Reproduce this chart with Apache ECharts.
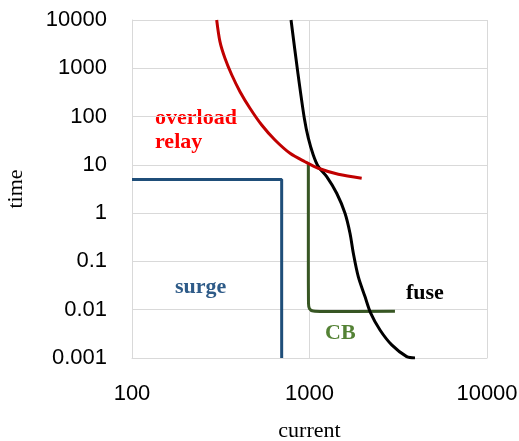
<!DOCTYPE html>
<html>
<head>
<meta charset="utf-8">
<script src="https://cdn.jsdelivr.net/npm/echarts@6/dist/echarts.min.js"></script>
<style>
  html, body { margin: 0; padding: 0; background: #fff; }
  #chart { width: 519px; height: 441px; }
</style>
</head>
<body>
<div id="chart"></div>
<script>
// tick labels
var xLabels = ['100', '1000', '10000'];
var yLabels = ['0.001', '0.01', '0.1', '1', '10', '100', '1000', '10000'];

// curves, [current, time]
var relay = [[300, 10000], [313, 3556], [334, 1610], [365, 726], [406, 328], [462, 149],
    [538, 67], [639, 32.8], [777, 17.4], [943, 11.6], [1121, 8.5], [1453, 6.4], [1968, 5.3]];
var fuse = [[787, 10000], [858, 851], [935, 92], [985, 35.6],
    [1050, 16.0], [1121, 9.2], [1250, 5.7], [1423, 2.58], [1585, 0.995], [1691, 0.384],
    [1766, 0.148], [1883, 0.0485], [2054, 0.0187], [2212, 0.0085], [2496, 0.0038],
    [2905, 0.00187], [3529, 0.00107], [3929, 0.001]];
var cb = [[985, 10.3], [985, 1], [985, 0.1], [987, 0.0136], [1000, 0.0105], [1050, 0.0094],
    [1200, 0.0092], [3030, 0.0093]];
var surge = [[100, 5], [697, 5], [697, 0.001]];

var gridColor = '#d9d9d9';

function lineSeries(name, data, color, smooth) {
    return {
        name: name,
        type: 'line',
        data: data,
        showSymbol: false,
        smooth: smooth,
        lineStyle: { color: color, width: 3 },
        silent: true
    };
}

var option = {
    animation: false,
    grid: { left: 132, right: 32, top: 20, bottom: 83, containLabel: false, outerBoundsMode: 'none' },
    xAxis: {
        type: 'log',
        logBase: 10,
        min: 100,
        max: 10000,
        name: 'current',
        nameLocation: 'middle',
        nameGap: 62,
        nameTextStyle: { fontFamily: 'Liberation Serif', fontSize: 22, color: '#000' },
        axisLine: { lineStyle: { color: gridColor } },
        axisTick: { show: false },
        axisLabel: {
            margin: 25,
            fontFamily: 'Liberation Sans',
            fontSize: 22,
            color: '#000',
            formatter: function (v) {
                return xLabels[Math.round(Math.log10(v)) - 2];
            }
        },
        splitLine: { show: true, lineStyle: { color: gridColor, width: 1 } }
    },
    yAxis: {
        type: 'log',
        logBase: 10,
        min: 0.001,
        max: 10000,
        name: 'time',
        nameLocation: 'middle',
        nameGap: 105,
        nameTextStyle: { fontFamily: 'Liberation Serif', fontSize: 22, color: '#000' },
        axisLine: { lineStyle: { color: gridColor } },
        axisTick: { show: false },
        axisLabel: {
            margin: 25,
            fontFamily: 'Liberation Sans',
            fontSize: 22,
            color: '#000',
            formatter: function (v) {
                return yLabels[Math.round(Math.log10(v)) + 3];
            }
        },
        splitLine: { show: true, lineStyle: { color: gridColor, width: 1 } }
    },
    series: [
        lineSeries('surge', surge, '#1f4e79', false),
        lineSeries('CB', cb, '#375623', 0.3),
        lineSeries('fuse', fuse, '#000000', 0.3),
        lineSeries('overload relay', relay, '#c00000', 0.3)
    ],
    graphic: [
        {
            type: 'text', left: 155, top: 106,
            style: { text: 'overload\nrelay', fill: '#ff0000', lineHeight: 24,
                font: 'bold 22px "Liberation Serif"' }
        },
        {
            type: 'text', left: 175, top: 276,
            style: { text: 'surge', fill: '#2e5b88', font: 'bold 22px "Liberation Serif"' }
        },
        {
            type: 'text', left: 406, top: 282,
            style: { text: 'fuse', fill: '#000', font: 'bold 22px "Liberation Serif"' }
        },
        {
            type: 'text', left: 325, top: 322,
            style: { text: 'CB', fill: '#548235', font: 'bold 22px "Liberation Serif"' }
        }
    ]
};

var chart = echarts.init(document.getElementById('chart'));
chart.setOption(option);
</script>
</body>
</html>
